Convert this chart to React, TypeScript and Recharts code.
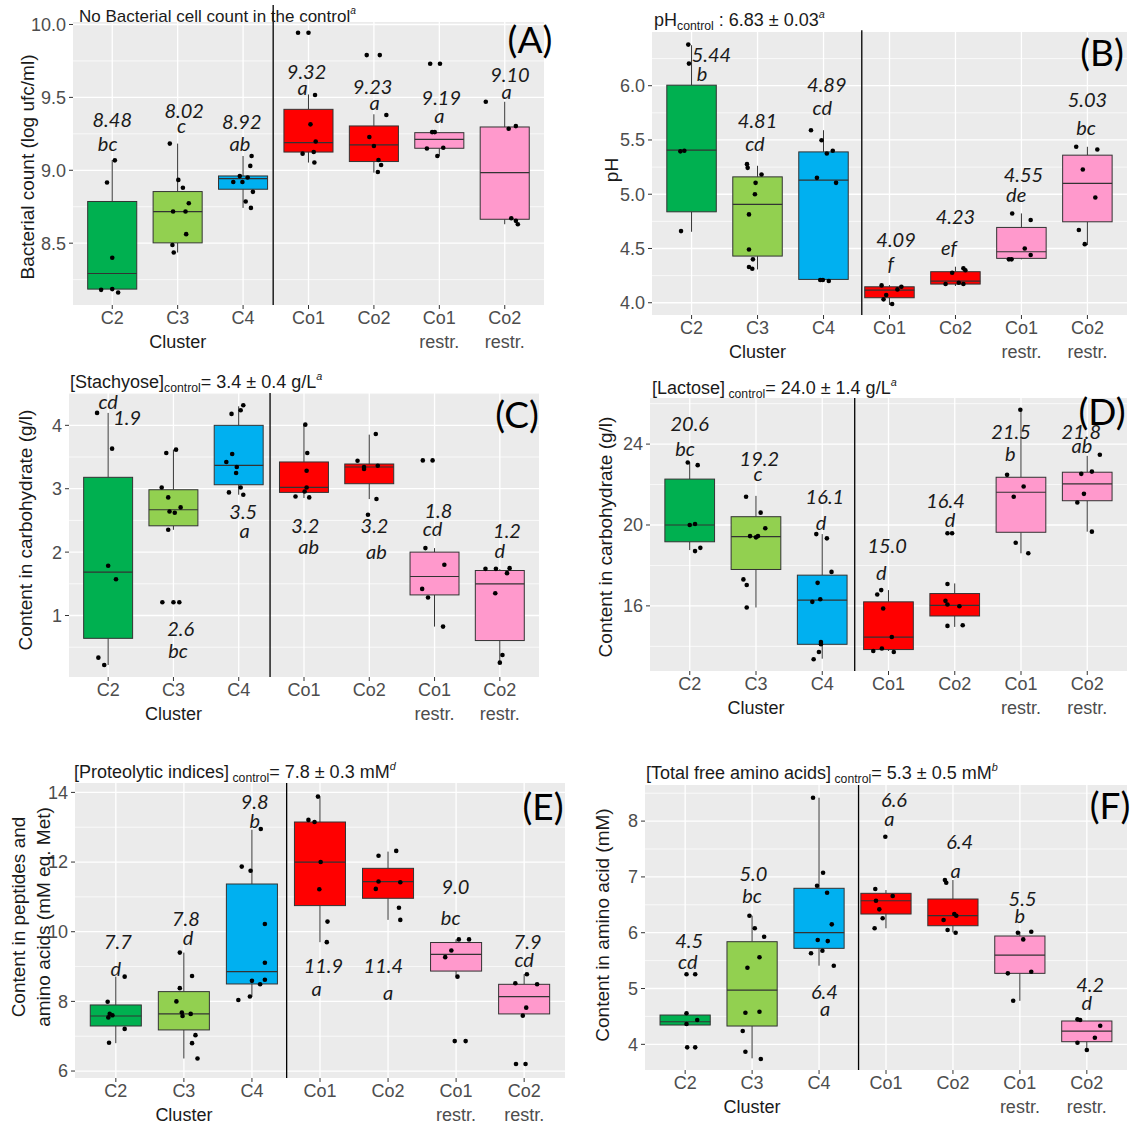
import React from 'react';
import { ComposedChart, Bar, Scatter, XAxis, YAxis, CartesianGrid, ReferenceLine } from 'recharts';

const CATEGORIES = ['C2', 'C3', 'C4', 'Co1', 'Co2', 'Co1', 'Co2'];
const SUBLABELS = ['', 'Cluster', '', '', '', 'restr.', 'restr.'];
const BOX_COLORS = ['#00B050', '#92D050', '#00B0F0', '#FF0000', '#FF0000', '#FF99CC', '#FF99CC'];
const CAT_TICKS = [1, 2, 3, 4, 5, 6, 7];

// box stats per category: [lower whisker, q1, median, q3, upper whisker]
const A_STATS = [
  [8.18, 8.185, 8.292, 8.786, 9.07],
  [8.436, 8.502, 8.717, 8.854, 9.183],
  [8.742, 8.87, 8.943, 8.961, 9.098],
  [9.053, 9.125, 9.19, 9.418, 9.52],
  [8.984, 9.06, 9.174, 9.304, 9.384],
  [9.098, 9.151, 9.212, 9.258, 9.262],
  [8.63, 8.664, 8.984, 9.297, 9.47],
];
const A_POINTS = [
  [0.92, 8.916], [1.04, 9.068], [1, 8.4], [0.83, 8.18], [1, 8.185], [1.09, 8.162],
  [1.88, 9.183], [2.01, 8.934], [2.08, 8.88], [2.17, 8.774], [1.93, 8.717], [2.12, 8.717], [2.13, 8.562], [1.92, 8.488], [1.94, 8.436],
  [3.13, 9.098], [3.11, 9.03], [2.85, 8.92], [2.99, 8.92], [3.07, 8.95], [2.95, 8.96], [3.15, 8.852], [3.04, 8.786], [3.12, 8.742],
  [3.84, 9.943], [4, 9.943], [4.1, 9.516], [4.03, 9.315], [4.11, 9.197], [3.91, 9.114], [4.08, 9.125], [4.09, 9.053],
  [4.89, 9.79], [5.09, 9.79], [5.19, 9.379], [4.93, 9.228], [5, 9.167], [5.07, 9.071], [5.11, 9.036], [5.06, 8.988],
  [5.86, 9.731], [6.01, 9.731], [5.89, 9.262], [5.93, 9.262], [5.81, 9.149], [6.06, 9.155], [5.97, 9.098],
  [6.71, 9.47], [7.06, 9.285], [7.17, 9.303], [7.1, 8.671], [7.17, 8.653], [7.2, 8.63],
];
const A_LABELS = [
  [1, 9.35, '8.48'], [0.93, 9.185, 'bc'],
  [2.1, 9.414, '8.02'], [2.06, 9.311, 'c'],
  [2.98, 9.34, '8.92'], [2.95, 9.19, 'ab'],
  [3.97, 9.683, '9.32'], [3.91, 9.569, 'a'],
  [4.98, 9.578, '9.23'], [5.01, 9.47, 'a'],
  [6.03, 9.5, '9.19'], [6, 9.379, 'a'],
  [7.08, 9.66, '9.10'], [7.03, 9.546, 'a'],
];

const B_STATS = [
  [4.654, 4.838, 5.406, 6.005, 6.373],
  [4.307, 4.43, 4.906, 5.16, 5.262],
  [4.215, 4.215, 5.13, 5.39, 5.59],
  [3.979, 4.046, 4.117, 4.147, 4.163],
  [4.154, 4.172, 4.2, 4.286, 4.332],
  [4.4, 4.409, 4.47, 4.694, 4.823],
  [4.531, 4.746, 5.1, 5.36, 5.437],
];
const B_POINTS = [
  [0.95, 6.379], [0.96, 6.204], [0.83, 5.395], [0.89, 5.4], [0.84, 4.66],
  [1.84, 5.277], [1.85, 5.243], [2.06, 5.182], [1.97, 5.105], [1.96, 5.0], [1.87, 4.814], [1.87, 4.49], [1.93, 4.4], [1.87, 4.33], [1.92, 4.313],
  [2.81, 5.59], [2.97, 5.498], [3.05, 5.376], [3.14, 5.4], [2.9, 5.151], [3.19, 5.105], [2.99, 4.209], [3.08, 4.2], [2.95, 4.209],
  [3.88, 4.16], [4.18, 4.147], [4.12, 4.123], [3.95, 4.071], [3.91, 4.031], [4.04, 3.988],
  [4.95, 4.276], [5.12, 4.317], [4.85, 4.172], [5.05, 4.184], [5.12, 4.172], [5.15, 4.3],
  [5.86, 4.823], [6.14, 4.762], [6.05, 4.5], [6.14, 4.44], [5.81, 4.4], [5.85, 4.4],
  [6.83, 5.437], [7.15, 5.412], [6.93, 5.228], [7.12, 4.97], [6.87, 4.67], [6.96, 4.54],
];
const B_LABELS = [
  [1.3, 6.29, '5.44'], [1.16, 6.118, 'b'],
  [2, 5.682, '4.81'], [1.96, 5.473, 'cd'],
  [3.05, 6.014, '4.89'], [2.98, 5.805, 'cd'],
  [4.1, 4.584, '4.09'], [4.02, 4.363, 'f'],
  [5, 4.798, '4.23'], [4.9, 4.516, 'ef'],
  [6.03, 5.19, '4.55'], [5.92, 4.998, 'de'],
  [7, 5.873, '5.03'], [6.98, 5.615, 'bc'],
];

const C_STATS = [
  [0.22, 0.64, 1.684, 3.18, 4.196],
  [2.352, 2.415, 2.668, 2.984, 3.616],
  [2.905, 3.063, 3.368, 4.0, 4.3],
  [2.853, 2.942, 3.02, 3.422, 4.011],
  [2.837, 3.079, 3.343, 3.39, 3.853],
  [0.825, 1.325, 1.615, 2.0, 2.063],
  [0.256, 0.605, 1.499, 1.71, 1.73],
];
const C_POINTS = [
  [0.83, 4.196], [1.06, 3.632], [1, 1.784], [1.12, 1.573], [0.85, 0.335], [0.94, 0.22],
  [1.89, 3.564], [2.04, 3.616], [1.82, 3.02], [1.92, 2.863], [1.94, 2.641], [2.02, 2.62], [2.11, 2.705], [1.92, 2.352], [1.83, 1.21], [2, 1.21], [2.09, 1.21],
  [3.07, 4.316], [3.03, 4.237], [2.89, 4.18], [2.9, 3.548], [2.81, 3.422], [2.97, 3.343], [2.96, 3.248], [3.03, 3.02], [2.85, 2.942], [3.07, 2.905],
  [4.02, 4.011], [4.05, 3.564], [4.04, 3.284], [4.04, 3.02], [4.01, 2.957], [3.87, 2.878], [4.08, 2.863],
  [5.1, 3.864], [4.82, 3.442], [4.92, 3.343], [4.92, 3.311], [5.13, 3.363], [5.11, 2.837], [4.98, 2.589],
  [5.82, 3.447], [5.97, 3.447], [5.86, 2.063], [6.15, 1.8], [5.81, 1.42], [5.9, 1.283], [6.13, 0.825],
  [6.78, 1.736], [6.94, 1.736], [7.15, 1.747], [7.11, 1.668], [6.93, 1.352], [7.04, 0.378], [7, 0.256],
];
const C_LABELS = [
  [1.29, 4.13, '1.9'], [1, 4.38, 'cd'],
  [2.11, 0.8, '2.6'], [2.07, 0.457, 'bc'],
  [3.07, 2.641, '3.5'], [3.09, 2.341, 'a'],
  [4.02, 2.42, '3.2'], [4.07, 2.1, 'ab'],
  [5.08, 2.42, '3.2'], [5.11, 2.01, 'ab'],
  [6.06, 2.668, '1.8'], [5.97, 2.379, 'cd'],
  [7.11, 2.341, '1.2'], [7, 2.036, 'd'],
];

const D_STATS = [
  [18.76, 19.17, 20.0, 22.27, 23.09],
  [15.92, 17.8, 19.42, 20.41, 21.44],
  [13.39, 14.1, 16.28, 17.52, 19.55],
  [13.77, 13.84, 14.46, 16.2, 16.78],
  [14.96, 15.5, 16.03, 16.61, 17.11],
  [18.6, 19.64, 21.62, 22.36, 25.7],
  [19.67, 21.2, 22.03, 22.61, 23.42],
];
const D_POINTS = [
  [0.97, 23.09], [1.12, 22.96], [1, 20.0], [1.08, 20.05], [1.08, 18.71], [1.16, 18.87],
  [1.85, 21.4], [2.07, 20.61], [2.14, 19.84], [1.91, 19.45], [2, 19.39], [2.03, 19.45], [1.81, 17.31], [1.86, 17.03], [1.86, 15.92],
  [2.91, 19.55], [3.07, 19.34], [3.14, 17.68], [2.93, 17.14], [2.97, 16.33], [2.85, 16.2], [2.98, 14.21], [2.98, 14.1], [2.95, 13.72], [2.87, 13.36],
  [3.89, 16.78], [3.83, 16.56], [3.92, 15.87], [4.05, 14.46], [3.77, 13.77], [3.9, 13.89], [4.08, 13.72],
  [4.89, 19.59], [4.96, 19.59], [4.89, 17.08], [4.86, 16.25], [4.89, 16.07], [5.07, 15.98], [4.89, 15.01], [5.12, 15.04],
  [5.99, 25.7], [5.79, 22.48], [6.04, 21.9], [5.89, 21.4], [5.92, 19.12], [6.11, 18.6],
  [6.91, 22.53], [7.07, 22.64], [7.19, 23.47], [6.95, 21.54], [6.85, 21.11], [7.07, 19.67],
];
const D_LABELS = [
  [1, 25.04, '20.6'], [0.93, 23.8, 'bc'],
  [2.05, 23.31, '19.2'], [2.03, 22.56, 'c'],
  [3.04, 21.44, '16.1'], [2.98, 20.13, 'd'],
  [3.98, 19.0, '15.0'], [3.89, 17.68, 'd'],
  [4.86, 21.24, '16.4'], [4.93, 20.28, 'd'],
  [5.85, 24.63, '21.5'], [5.84, 23.55, 'b'],
  [6.91, 24.63, '21.8'], [6.92, 23.97, 'ab'],
];

const E_STATS = [
  [6.8, 7.293, 7.58, 7.897, 8.71],
  [6.36, 7.18, 7.64, 8.28, 9.4],
  [8.135, 8.5, 8.853, 11.37, 12.93],
  [9.7, 10.75, 12.0, 13.15, 13.88],
  [10.34, 10.96, 11.44, 11.82, 12.3],
  [8.71, 8.87, 9.35, 9.69, 9.78],
  [7.64, 7.64, 8.135, 8.49, 8.78],
];
const E_POINTS = [
  [1.13, 8.71], [0.88, 7.99], [0.91, 7.64], [0.89, 7.54], [0.95, 7.6], [1.13, 7.21], [0.9, 6.81],
  [1.94, 9.4], [2.12, 8.73], [1.94, 8.38], [1.89, 8.0], [1.97, 7.68], [1.98, 7.58], [2.1, 7.64], [2.17, 7.03], [2.12, 6.8], [2.2, 6.36],
  [3.13, 12.95], [2.85, 11.87], [2.98, 11.75], [3.19, 10.22], [3.19, 9.11], [3, 8.59], [3.19, 8.62], [3.12, 8.49], [2.97, 8.14], [2.8, 8.04],
  [3.97, 13.88], [3.83, 13.21], [3.92, 13.15], [4.01, 12.0], [3.99, 11.22], [4.11, 10.29], [4.1, 9.7],
  [5.12, 12.32], [4.86, 12.18], [4.86, 11.44], [4.82, 11.23], [5.18, 11.42], [5.16, 10.69], [5.18, 10.34],
  [6.04, 9.78], [6.19, 9.78], [5.93, 9.46], [5.84, 9.27], [6.02, 8.71], [5.98, 6.86], [6.14, 6.86],
  [7.04, 8.78], [6.87, 8.52], [7.19, 8.49], [7.03, 7.82], [6.98, 7.59], [6.88, 6.2], [7.02, 6.2],
];
const E_LABELS = [
  [1.03, 9.72, '7.7'], [1, 8.97, 'd'],
  [2.03, 10.39, '7.8'], [2.06, 9.86, 'd'],
  [3.04, 13.76, '9.8'], [3.04, 13.21, 'b'],
  [4.05, 9.05, '11.9'], [3.95, 8.39, 'a'],
  [4.93, 9.05, '11.4'], [5, 8.28, 'a'],
  [5.99, 11.3, '9.0'], [5.92, 10.41, 'bc'],
  [7.05, 9.72, '7.9'], [7, 9.21, 'cd'],
];

const F_STATS = [
  [4.346, 4.346, 4.405, 4.525, 4.556],
  [3.749, 4.328, 4.973, 5.839, 6.305],
  [5.409, 5.72, 6.0, 6.796, 8.419],
  [6.079, 6.335, 6.573, 6.706, 6.765],
  [6.007, 6.125, 6.305, 6.604, 6.944],
  [4.78, 5.272, 5.6, 5.941, 6.018],
  [3.898, 4.047, 4.238, 4.418, 4.418],
];
const F_POINTS = [
  [1.02, 5.255], [1.15, 5.255], [1.02, 4.556], [1.02, 4.364], [1.18, 4.436], [1.03, 3.946], [1.15, 3.946],
  [1.96, 6.305], [2.04, 6.079], [2.18, 5.928], [2.11, 5.56], [1.93, 5.373], [2.11, 4.584], [1.9, 4.566], [1.86, 4.238], [1.9, 3.867], [2.13, 3.737],
  [2.91, 8.419], [3.06, 7.075], [2.97, 6.842], [3.12, 6.717], [3.19, 6.15], [2.98, 5.869], [3.13, 5.85], [3.05, 5.677], [2.88, 5.631], [3.22, 5.409],
  [3.99, 7.72], [3.84, 6.783], [4.1, 6.658], [3.85, 6.573], [3.9, 6.419], [3.95, 6.258], [3.83, 6.079],
  [4.88, 6.944], [4.9, 6.896], [5.02, 6.335], [5.05, 6.305], [4.86, 6.228], [4.92, 6.048], [5.04, 6.0],
  [5.97, 6.0], [6.17, 6.018], [6.05, 5.88], [5.82, 5.272], [6.17, 5.3], [5.9, 4.78],
  [6.86, 4.448], [6.9, 4.436], [7.2, 4.333], [7.12, 4.118], [6.86, 4.029], [7, 3.898],
];
const F_LABELS = [
  [1.06, 5.869, '4.5'], [1.04, 5.493, 'cd'],
  [2.02, 7.065, '5.0'], [2, 6.676, 'bc'],
  [3.08, 4.96, '6.4'], [3.09, 4.645, 'a'],
  [4.12, 8.39, '6.6'], [4.05, 8.05, 'a'],
  [5.1, 7.643, '6.4'], [5.04, 7.124, 'a'],
  [6.04, 6.627, '5.5'], [6, 6.317, 'b'],
  [7.05, 5.075, '4.2'], [7, 4.763, 'd'],
];

const SANS = '"Liberation Sans", Arial, sans-serif';
const CAL = 'Lato, "Open Sans", sans-serif';
const TICK_COLOR = '#4D4D4D';

function buildBoxes(stats: number[][]) {
  return stats.map((s, i) => ({
    x: i + 1, lo: s[0], q1: s[1], med: s[2], q3: s[3], hi: s[4], range: [s[0], s[4]], fill: BOX_COLORS[i],
  }));
}
function buildPoints(pts: number[][]) {
  return pts.map(([x, y]) => ({ x, y }));
}
function buildLabels(l: any[][]) {
  return l.map(([x, y, t]) => ({ x, y, t }));
}

function BoxShape(props: any) {
  const { x, y, width, height, payload, bw } = props;
  if (x == null || y == null || !payload) return null;
  const top = Math.min(y, y + height);
  const h = Math.abs(height);
  const { lo, hi, q1, med, q3, fill } = payload;
  const py = (v: number) => top + (h * (hi - v)) / (hi - lo);
  const cx = x + (width || 0) / 2;
  const bx = cx - bw / 2;
  return (
    <g>
      <line x1={cx} x2={cx} y1={py(hi)} y2={py(q3)} stroke="#333" strokeWidth={1} />
      <line x1={cx} x2={cx} y1={py(q1)} y2={py(lo)} stroke="#333" strokeWidth={1} />
      <rect x={bx} y={py(q3)} width={bw} height={Math.max(py(q1) - py(q3), 0.5)} fill={fill} stroke="#333" strokeWidth={1} />
      <line x1={bx} x2={bx + bw} y1={py(med)} y2={py(med)} stroke="#333" strokeWidth={1.2} />
    </g>
  );
}

const Dot = (p: any) => <circle cx={p.cx} cy={p.cy} r={2.3} fill="#000" />;
const LabelText = (p: any) => (
  <text x={p.cx} y={p.cy} textAnchor="middle" dominantBaseline="central" fontFamily={CAL} fontStyle="italic" fontSize={20} fill="#1a1a1a">
    {p.payload.t}
  </text>
);

const CatTick = (props: any) => {
  const { x, y, payload } = props;
  const i = Math.round(payload.value) - 1;
  return (
    <g>
      <text x={x} y={y + 13} textAnchor="middle" fontSize={18} fontFamily={SANS} fill={TICK_COLOR}>{CATEGORIES[i]}</text>
      {SUBLABELS[i] ? (
        <text x={x} y={y + 37} textAnchor="middle" fontSize={18} fontFamily={SANS} fill={i === 1 ? '#1a1a1a' : TICK_COLOR}>{SUBLABELS[i]}</text>
      ) : null}
    </g>
  );
};

type Cfg = {
  left: number; top: number; width: number; height: number;
  plot: { left: number; right: number; top: number; bottom: number };
  domain: [number, number]; ticks: number[]; minor: number[]; fmt: (v: number) => string;
  stats: number[][]; points: number[][]; labels: any[][];
  divider: number; dividerTop: number;
};

const PANELS: Cfg[] = [
  { left: 0, top: 0, width: 565, height: 362, plot: { left: 73, right: 544, top: 22, bottom: 305 },
    domain: [8.076, 10.017], ticks: [8.5, 9, 9.5, 10], minor: [8.25, 8.75, 9.25, 9.75], fmt: (v) => v.toFixed(1),
    stats: A_STATS, points: A_POINTS, labels: A_LABELS, divider: 3.46, dividerTop: 10.134 },
  { left: 565, top: 0, width: 566, height: 368, plot: { left: 652, right: 1127, top: 32, bottom: 315 },
    domain: [3.887, 6.495], ticks: [4, 4.5, 5, 5.5, 6], minor: [4.25, 4.75, 5.25, 5.75, 6.25], fmt: (v) => v.toFixed(1),
    stats: B_STATS, points: B_POINTS, labels: B_LABELS, divider: 3.58, dividerTop: 6.51 },
  { left: 0, top: 360, width: 565, height: 370, plot: { left: 69, right: 539, top: 393, bottom: 677 },
    domain: [0.03, 4.51], ticks: [1, 2, 3, 4], minor: [0.5, 1.5, 2.5, 3.5, 4.5], fmt: (v) => String(v),
    stats: C_STATS, points: C_POINTS, labels: C_LABELS, divider: 3.48, dividerTop: 4.51 },
  { left: 565, top: 360, width: 566, height: 370, plot: { left: 650, right: 1127, top: 398, bottom: 671 },
    domain: [12.78, 26.28], ticks: [16, 20, 24], minor: [14, 18, 22, 26], fmt: (v) => String(v),
    stats: D_STATS, points: D_POINTS, labels: D_LABELS, divider: 3.49, dividerTop: 26.28 },
  { left: 0, top: 740, width: 565, height: 384, plot: { left: 75, right: 565, top: 783, bottom: 1078 },
    domain: [5.8, 14.27], ticks: [6, 8, 10, 12, 14], minor: [7, 9, 11, 13], fmt: (v) => String(v),
    stats: E_STATS, points: E_POINTS, labels: E_LABELS, divider: 3.51, dividerTop: 14.27 },
  { left: 565, top: 740, width: 566, height: 384, plot: { left: 645, right: 1127, top: 785, bottom: 1070 },
    domain: [3.54, 8.647], ticks: [4, 5, 6, 7, 8], minor: [4.5, 5.5, 6.5, 7.5, 8.5], fmt: (v) => String(v),
    stats: F_STATS, points: F_POINTS, labels: F_LABELS, divider: 3.59, dividerTop: 8.647 },
];

function Panel({ cfg }: { cfg: Cfg }) {
  const { left, top, width, height, plot, domain } = cfg;
  const mTop = plot.top - top;
  const yW = plot.left - left;
  const mRight = left + width - plot.right;
  const xH = top + height - plot.bottom;
  const spacing = (plot.right - plot.left) / 7.2;
  const bw = spacing * 0.75;
  const boxes = buildBoxes(cfg.stats);
  return (
    <div style={{ position: 'absolute', left, top, width, height }}>
      <ComposedChart width={width} height={height} data={boxes} margin={{ top: mTop, right: mRight, bottom: 0, left: 0 }}>
        <CartesianGrid fill="#EBEBEB" stroke="#FFFFFF" strokeWidth={0.7} vertical={false} horizontalValues={cfg.minor} />
        <CartesianGrid stroke="#FFFFFF" strokeWidth={1.3} horizontalValues={cfg.ticks} verticalValues={CAT_TICKS} />
        <XAxis type="number" dataKey="x" domain={[0.4, 7.6]} ticks={CAT_TICKS} interval={0} allowDataOverflow
          height={xH} tickSize={4} tickMargin={2} axisLine={false} tickLine={{ stroke: '#333' }} tick={<CatTick />} />
        <YAxis type="number" dataKey="y" domain={domain} ticks={cfg.ticks} interval={0} allowDataOverflow width={yW}
          tickSize={4} tickMargin={3} axisLine={false} tickLine={{ stroke: '#333' }} tickFormatter={cfg.fmt}
          tick={{ fontSize: 18, fill: TICK_COLOR, fontFamily: SANS }} />
        <Bar dataKey="range" barSize={bw} shape={(p: any) => <BoxShape {...p} bw={bw} />} isAnimationActive={false} />
        <Scatter data={buildPoints(cfg.points)} dataKey="y" shape={Dot} isAnimationActive={false} />
        <ReferenceLine segment={[{ x: cfg.divider, y: domain[0] }, { x: cfg.divider, y: cfg.dividerTop }]} stroke="#000" strokeWidth={1.3} ifOverflow="visible" />
        <Scatter data={buildLabels(cfg.labels)} dataKey="y" shape={LabelText} isAnimationActive={false} />
      </ComposedChart>
    </div>
  );
}

const subStyle: React.CSSProperties = { fontSize: '0.68em', verticalAlign: '-0.35em', lineHeight: 0 };
const supStyle: React.CSSProperties = { fontSize: '0.6em', verticalAlign: '0.75em', lineHeight: 0, fontStyle: 'italic' };

function Title({ x, y, size, children }: any) {
  return (
    <div style={{ position: 'absolute', left: x, top: y - 12, height: 24, lineHeight: '24px', fontSize: size, fontFamily: SANS, color: '#1a1a1a', whiteSpace: 'nowrap' }}>
      {children}
    </div>
  );
}

function YTitle({ x, y, lines }: { x: number; y: number; lines: string[] }) {
  return (
    <div style={{ position: 'absolute', left: x, top: y, transform: 'translate(-50%, -50%) rotate(-90deg)', fontSize: 19, lineHeight: '25px', fontFamily: SANS, color: '#1a1a1a', whiteSpace: 'nowrap', textAlign: 'center' }}>
      {lines.map((l, i) => <div key={i}>{l}</div>)}
    </div>
  );
}

function Letter({ x, y, t }: { x: number; y: number; t: string }) {
  return (
    <div style={{ position: 'absolute', left: x, top: y, transform: 'translate(-50%, -50%)', fontSize: 37, fontFamily: CAL, color: '#000', whiteSpace: 'nowrap', lineHeight: 1 }}>
      {t}
    </div>
  );
}

export default function App() {
  return (
    <div style={{ position: 'absolute', left: 0, top: 0, width: 1131, height: 1124, background: '#fff', overflow: 'hidden' }}>
      {PANELS.map((p, i) => <Panel key={i} cfg={p} />)}

      <Title x={79} y={17} size={17}>No Bacterial cell count in the control<span style={supStyle}>a</span></Title>
      <Title x={654} y={20} size={18}>pH<span style={subStyle}>control</span> : 6.83 ± 0.03<span style={supStyle}>a</span></Title>
      <Title x={70} y={382} size={18}>[Stachyose]<span style={subStyle}>control</span>= 3.4 ± 0.4 g/L<span style={supStyle}>a</span></Title>
      <Title x={652} y={388} size={18}>[Lactose]<span style={subStyle}> control</span>= 24.0 ± 1.4 g/L<span style={supStyle}>a</span></Title>
      <Title x={74} y={772} size={18}>[Proteolytic indices]<span style={subStyle}> control</span>= 7.8 ± 0.3 mM<span style={supStyle}>d</span></Title>
      <Title x={646} y={773} size={18}>[Total free amino acids]<span style={subStyle}> control</span>= 5.3 ± 0.5 mM<span style={supStyle}>b</span></Title>

      <YTitle x={27} y={167} lines={['Bacterial count (log ufc/ml)']} />
      <YTitle x={611} y={170} lines={['pH']} />
      <YTitle x={25} y={530} lines={['Content in carbohydrate (g/l)']} />
      <YTitle x={605} y={537} lines={['Content in carbohydrate (g/l)']} />
      <YTitle x={31} y={917} lines={['Content in peptides and', 'amino acids (mM eq. Met)']} />
      <YTitle x={602} y={925} lines={['Content in amino acid (mM)']} />

      <Letter x={530} y={38} t="(A)" />
      <Letter x={1102} y={51} t="(B)" />
      <Letter x={517} y={413} t="(C)" />
      <Letter x={1102} y={410} t="(D)" />
      <Letter x={543} y={805} t="(E)" />
      <Letter x={1110} y={804} t="(F)" />
    </div>
  );
}
